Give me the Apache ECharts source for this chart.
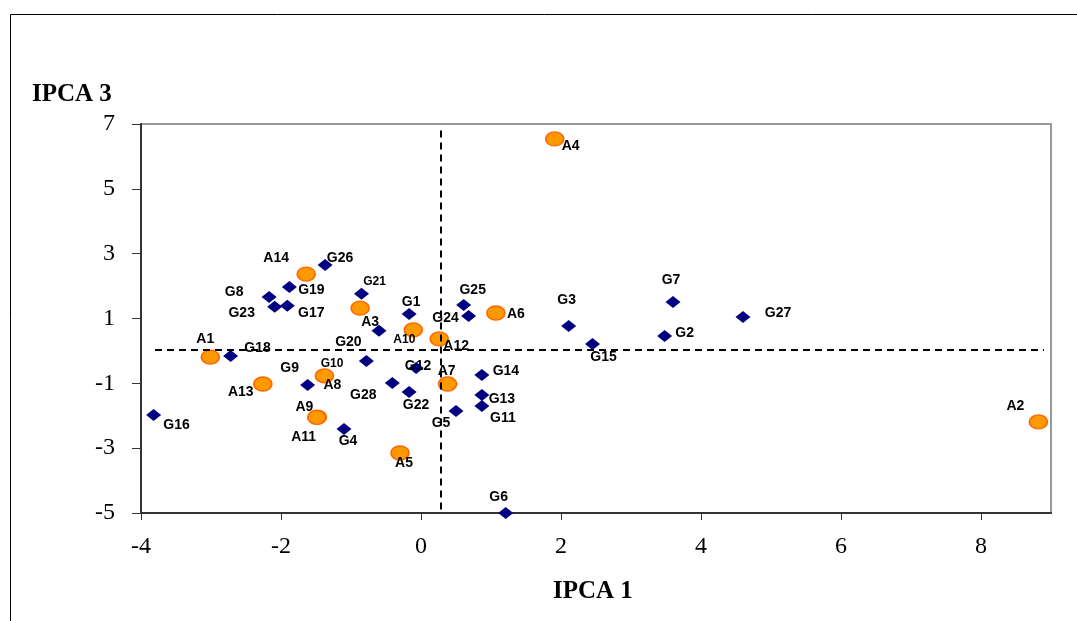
<!DOCTYPE html>
<html>
<head>
<meta charset="utf-8">
<style>
  html, body { margin: 0; padding: 0; background: #fff; }
  #main { width: 1077px; height: 621px; }
</style>
<script src="https://cdn.jsdelivr.net/npm/echarts@6/dist/echarts.min.js"></script>
</head>
<body>
<div id="main"></div>
<script>
var chart = echarts.init(document.getElementById('main'));

// tick labels
var xTicks = [-4, -2, 0, 2, 4, 6, 8];
var yTicks = [-5, -3, -1, 1, 3, 5, 7];

// genotypes (blue diamonds)
var genoNames = ['G1', 'G2', 'G3', 'G4', 'G5', 'G6', 'G7', 'G8', 'G9', 'G10',
  'G11', 'G12', 'G13', 'G14', 'G15', 'G16', 'G17', 'G18', 'G19', 'G20',
  'G21', 'G22', 'G23', 'G24', 'G25', 'G26', 'G27', 'G28'];
var genoX = [-0.17, 3.48, 2.11, -1.10, 0.50, 1.21, 3.60, -2.17, -1.62, -0.60,
  0.87, -0.07, 0.87, 0.87, 2.45, -3.82, -1.91, -2.72, -1.88, -0.78,
  -0.85, -0.17, -2.09, 0.68, 0.61, -1.37, 4.60, -0.41];
var genoY = [1.14, 0.46, 0.77, -2.41, -1.85, -5.00, 1.51, 1.66, -1.05, 0.62,
  -1.70, -0.53, -1.36, -0.74, 0.21, -1.98, 1.39, -0.16, 1.97, -0.31,
  1.76, -1.27, 1.36, 1.08, 1.42, 2.65, 1.05, -0.99];

// environments (orange circles)
var envNames = ['A1', 'A2', 'A3', 'A4', 'A5', 'A6', 'A7', 'A8', 'A9', 'A10',
  'A11', 'A12', 'A13', 'A14'];
var envX = [-3.01, 8.82, -0.87, 1.91, -0.30, 1.07, 0.38, -1.38, -1.48, -0.11,
  -1.49, 0.26, -2.26, -1.64];
var envY = [-0.19, -2.19, 1.32, 6.54, -3.15, 1.17, -1.02, -0.77, -2.04, 0.65,
  -2.05, 0.37, -1.02, 2.37];

// dashed reference lines (means)
var meanX = 0.28;
var meanY = 0.03;

// where each label sits relative to its point (px)
var labelShift = {
  G1: [2, -12], G2: [20, -3], G3: [-2, -26], G4: [4, 12], G5: [-15, 12],
  G6: [-7, -16], G7: [-2, -22], G8: [-35, -5], G9: [-18, -17], G10: [-47, 33],
  G11: [21, 12], G12: [2, -2], G13: [20, 4], G14: [24, -4], G15: [11, 13],
  G16: [23, 10], G17: [24, 7], G18: [27, -8], G19: [22, 3], G20: [-18, -19],
  G21: [13, -12], G22: [7, 13], G23: [-33, 6], G24: [-23, 2], G25: [9, -15],
  G26: [15, -7], G27: [35, -4], G28: [-29, 12],
  A1: [-5, -18], A2: [-23, -16], A3: [10, 14], A4: [16, 7], A5: [4, 10],
  A6: [20, 1], A7: [-1, -13], A8: [8, 9], A9: [-13, -10], A10: [-9, 10],
  A11: [-13, 20], A12: [17, 7], A13: [-22, 8], A14: [-30, -16]
};
var smallLabels = ['G10', 'G21', 'A10'];

function buildPoints(names, xs, ys) {
  return names.map(function (n, i) {
    return {
      name: n,
      value: [xs[i], ys[i]],
      label: {
        offset: labelShift[n],
        fontSize: smallLabels.indexOf(n) >= 0 ? 12 : 14
      }
    };
  });
}

var pointLabel = {
  show: true,
  position: 'inside',
  formatter: '{b}',
  color: '#000',
  fontWeight: 'bold',
  fontFamily: 'Liberation Sans, Arial, sans-serif',
  align: 'center',
  verticalAlign: 'middle'
};

var serifFont = 'Liberation Serif, Times New Roman, serif';

var option = {
  backgroundColor: '#fff',
  animation: false,
  graphic: [
    {
      type: 'rect',
      shape: { x: 10.5, y: 14.5, width: 1100, height: 650 },
      style: { fill: 'none', stroke: '#000', lineWidth: 1 },
      silent: true
    },
    {
      type: 'text',
      left: 32, top: 82,
      style: { text: 'IPCA 3', font: 'bold 25px ' + serifFont, fill: '#000' }
    },
    {
      type: 'text',
      left: 553, top: 579,
      style: { text: 'IPCA 1', font: 'bold 25px ' + serifFont, fill: '#000' }
    }
  ],
  grid: {
    left: 141,
    top: 124,
    width: 910,
    height: 389,
    show: true,
    borderColor: '#999',
    borderWidth: 2,
    containLabel: false
  },
  xAxis: {
    type: 'value',
    min: -4,
    max: 9,
    splitLine: { show: false },
    axisLine: { onZero: false, lineStyle: { color: '#333', width: 2 } },
    axisTick: { show: true, length: 7, customValues: xTicks, lineStyle: { color: '#333' } },
    axisLabel: {
      customValues: xTicks,
      margin: 22,
      color: '#000',
      fontSize: 24,
      fontFamily: serifFont
    }
  },
  yAxis: {
    type: 'value',
    min: -5,
    max: 7,
    splitLine: { show: false },
    axisLine: { onZero: false, lineStyle: { color: '#333', width: 2 } },
    axisTick: { show: true, length: 9, customValues: yTicks, lineStyle: { color: '#333' } },
    axisLabel: {
      customValues: yTicks,
      margin: 26,
      color: '#000',
      fontSize: 24,
      fontFamily: serifFont
    }
  },
  series: [
    {
      name: 'Genotypes',
      type: 'scatter',
      symbol: 'diamond',
      symbolSize: [15, 12],
      itemStyle: { color: '#000080', opacity: 1 },
      label: pointLabel,
      data: buildPoints(genoNames, genoX, genoY),
      markLine: {
        silent: true,
        symbol: 'none',
        label: { show: false },
        lineStyle: { color: '#000', type: [7, 5], width: 2 },
        data: [
          [{ coord: [meanX, 6.8] }, { coord: [meanX, -5] }],
          [{ coord: [-3.8, meanY] }, { coord: [8.9, meanY] }]
        ]
      }
    },
    {
      name: 'Environments',
      type: 'scatter',
      symbol: 'circle',
      symbolSize: [18, 14],
      itemStyle: { color: '#FF9900', borderColor: '#FF6600', borderWidth: 1.5, opacity: 1 },
      label: pointLabel,
      data: buildPoints(envNames, envX, envY)
    }
  ]
};

chart.setOption(option);
</script>
</body>
</html>
